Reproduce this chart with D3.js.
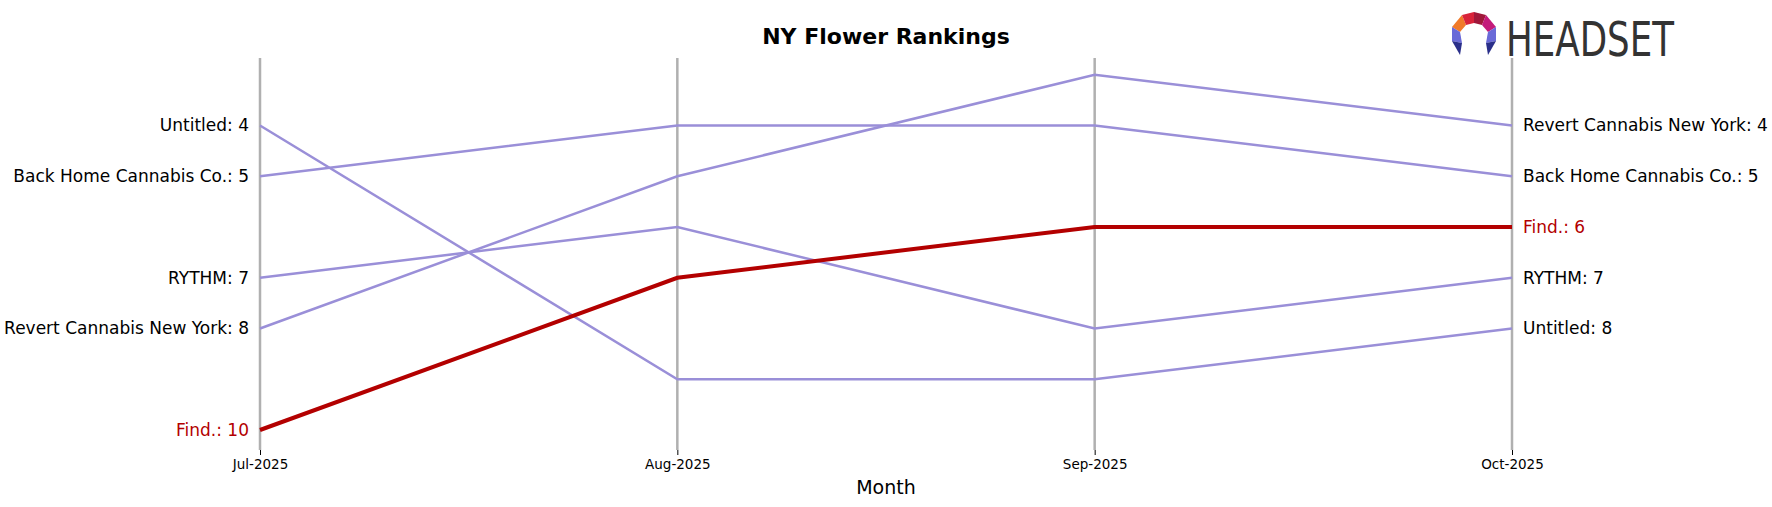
<!DOCTYPE html>
<html><head><meta charset="utf-8">
<script src="https://cdn.jsdelivr.net/npm/d3@7"></script>
<style>body{margin:0;background:#fff}text{font-family:"DejaVu Sans",sans-serif}</style>
</head><body><div id="chart"></div>
<script>
const months = ["Jul-2025", "Aug-2025", "Sep-2025", "Oct-2025"];
const brands = ["Untitled", "Back Home Cannabis Co.", "RYTHM", "Revert Cannabis New York", "Find."];
const untitled = [4, 9, 9, 8];
const backHome = [5, 4, 4, 5];
const rythm = [7, 6, 8, 7];
const revert = [8, 5, 3, 4];
const find = [10, 7, 6, 6];
const ranks = [untitled, backHome, rythm, revert, find];
const focus = "Find.";

const W = 1772, H = 507;
const svg = d3.select("#chart").append("svg").attr("width", W).attr("height", H);

const x = d3.scalePoint().domain(months).range([260, 1512]);
const y = d3.scaleLinear().domain([4, 10]).range([125.5, 430]);

// vertical month lines
svg.selectAll(".vline").data(months).enter().append("line")
  .attr("x1", d => x(d)).attr("x2", d => x(d))
  .attr("y1", 58).attr("y2", 450)
  .attr("stroke", "#b0b0b0").attr("stroke-width", 2.5);

// x axis ticks
const ax = svg.append("g").attr("transform", "translate(0,450)")
  .call(d3.axisBottom(x).tickSize(5).tickPadding(4));
ax.select(".domain").remove();
ax.selectAll("text").attr("font-size", 13.5).attr("fill", "#000");

const line = d3.line().x((d, i) => x(months[i])).y(d => y(d));
const series = brands.map((b, i) => ({name: b, vals: ranks[i]}));
const ordered = series.filter(s => s.name !== focus).concat(series.filter(s => s.name === focus));

svg.selectAll(".ln").data(ordered).enter().append("path")
  .attr("d", d => line(d.vals)).attr("fill", "none")
  .attr("stroke", d => d.name === focus ? "#b30000" : "#9a8fd8")
  .attr("stroke-width", d => d.name === focus ? 4 : 2.5);

// left labels
svg.selectAll(".ll").data(series).enter().append("text")
  .attr("x", x(months[0]) - 11).attr("y", d => y(d.vals[0]))
  .attr("dy", "0.35em").attr("text-anchor", "end").attr("font-size", 17)
  .attr("fill", d => d.name === focus ? "#b30000" : "#000")
  .text(d => d.name + ": " + d.vals[0]);

// right labels
svg.selectAll(".rl").data(series).enter().append("text")
  .attr("x", x(months[3]) + 11).attr("y", d => y(d.vals[3]))
  .attr("dy", "0.35em").attr("text-anchor", "start").attr("font-size", 17)
  .attr("fill", d => d.name === focus ? "#b30000" : "#000")
  .text(d => d.name + ": " + d.vals[3]);

svg.append("text").attr("x", 886).attr("y", 44).attr("text-anchor", "middle")
  .attr("font-size", 22).attr("font-weight", "bold").text("NY Flower Rankings");
svg.append("text").attr("x", 886).attr("y", 494).attr("text-anchor", "middle")
  .attr("font-size", 19).text("Month");

// logo: hexagonal ring
const lg = svg.append("g").attr("transform", "translate(1474,37)");
const ring = [
  ["#f07a2a", [[-22,-10],[-12,-22],[-8,-12],[-14,-5]]],
  ["#d8233a", [[-12,-22],[0,-25],[0,-14],[-8,-12]]],
  ["#a0183a", [[0,-25],[12,-22],[8,-12],[0,-14]]],
  ["#c41a7a", [[12,-22],[22,-10],[14,-5],[8,-12]]],
  ["#6a6ad8", [[-22,-10],[-14,-5],[-12,6],[-22,4]]],
  ["#2a2f8a", [[-22,4],[-12,6],[-14,18]]],
  ["#6a6ad8", [[22,-10],[14,-5],[12,6],[22,4]]],
  ["#2a2f8a", [[22,4],[12,6],[14,18]]]
];
lg.selectAll("path").data(ring).enter().append("path")
  .attr("d", d => "M" + d[1].join("L") + "Z").attr("fill", d => d[0]);
svg.append("text").attr("x", 1506).attr("y", 56).attr("font-family", "Roboto")
  .attr("font-size", 48).attr("fill", "#333").attr("textLength", 168).attr("lengthAdjust", "spacingAndGlyphs")
  .text("HEADSET");
</script></body></html>
